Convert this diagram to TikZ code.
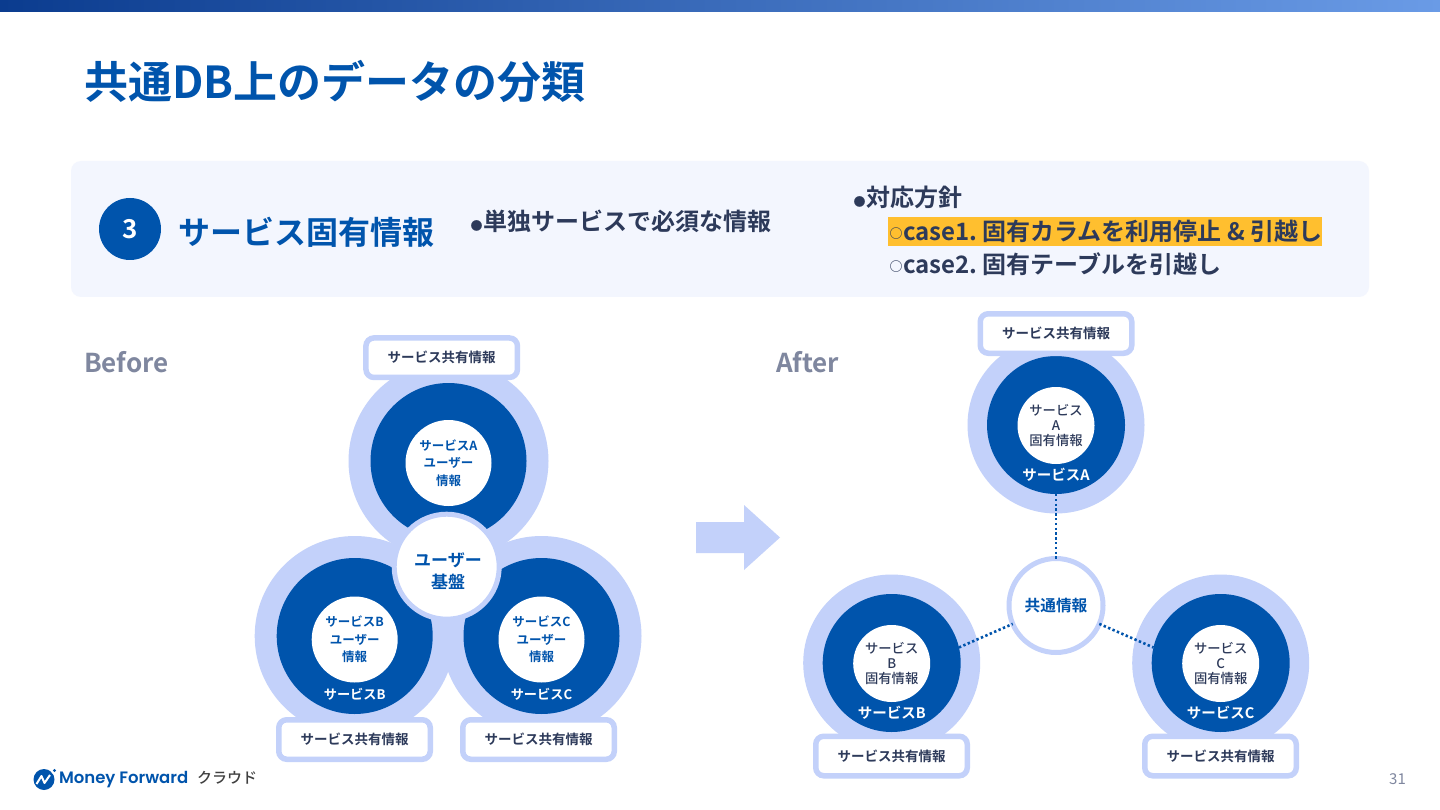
\documentclass[tikz,border=0pt]{standalone}
\usepackage{fontspec}
\setmainfont{Noto Sans CJK JP}[BoldFont={Noto Sans CJK JP Bold}]
\newfontfamily\jpm{Noto Sans CJK JP Medium}
\newfontfamily\logofont{Poppins SemiBold}
\usetikzlibrary{calc}
\definecolor{mfblue}{HTML}{0054AC}
\definecolor{mflight}{HTML}{C3D1FA}
\definecolor{mfpanel}{HTML}{F3F6FE}
\definecolor{mfink}{HTML}{2D3A5A}
\definecolor{mfgrey}{HTML}{7F879F}
\definecolor{mforange}{HTML}{FFBF2F}
\definecolor{mfbarl}{HTML}{0B3C8F}
\definecolor{mfbarr}{HTML}{6A9BE6}
\newcommand{\fsz}[2]{\fontsize{#1}{#2}\selectfont}
\newcommand{\solidbul}{\makebox[13pt][c]{\fsz{12}{12}●}}
\newcommand{\openbul}{\makebox[14pt][c]{\raisebox{1.5pt}{\fsz{13}{13}○}}}
\newcommand{\sharetxt}{\raisebox{-1pt}{サービス共有情報}}
\tikzset{
  x=1pt,y=-1pt,
  lab/.style={inner sep=0,outer sep=0,align=center},
  disc/.style={circle,inner sep=0,outer sep=0,minimum size=#1},
  bigl/.style={disc=200,fill=mflight},
  bigd/.style={disc=156,fill=mfblue},
  bigw/.style={disc=86,fill=white,text=mfblue,font=\bfseries\fsz{12.5}{17.5},lab},
  smal/.style={disc=177,fill=mflight},
  smad/.style={disc=138,fill=mfblue},
  smaw/.style={disc=77,fill=white,text=mfink,font=\jpm\fsz{13.3}{15},lab},
  sharebox/.style={rectangle,rounded corners=8,draw=mflight,line width=5.5,fill=white,inner sep=0,outer sep=0,minimum width=151.5,minimum height=39.5,text=mfink,font=\bfseries\fsz{13.5}{16}},
  whitelab/.style={lab,text=white,font=\bfseries\fsz{13.2}{16}},
  link/.style={draw=mfblue,line width=2.6,dash pattern=on 2.4 off 2.4},
  head/.style={lab,anchor=west,text=mfink,font=\bfseries\fsz{24}{30}},
}
\begin{document}
\begin{tikzpicture}
\useasboundingbox (0,0) rectangle (1440,810);
\fill[white] (0,0) rectangle (1440,810);
\shade[left color=mfbarl,right color=mfbarr] (0,0) rectangle (1440,12);
% title
\node[lab,anchor=west,text=mfblue,font=\bfseries\fsz{44}{50}] (title) at (84,81) {共通DB上のデータの分類};
% panel
\fill[mfpanel,rounded corners=10] (71,161) rectangle (1369,297);
\node[disc=62,fill=mfblue,text=white,font=\bfseries\fsz{26}{30}] (badge) at (130,229) {3};
\node[lab,anchor=west,text=mfblue,font=\bfseries\fsz{32}{36}] (kind) at (178,232) {サービス固有情報};
\node[head] (single) at (470,221) {\solidbul 単独サービスで必須な情報};
\node[head] (policy) at (853,197) {\solidbul 対応方針};
\node[rectangle,fill=mforange,inner sep=0,outer sep=0,minimum width=434,minimum height=29,anchor=west] (hl) at (888,231.5) {};
\node[head] (case1) at (889,231) {\openbul case1.\hspace{-2pt} 固有カラムを利用停止 \& 引越し};
\node[head] (case2) at (889,264) {\openbul case2.\hspace{-2pt} 固有テーブルを引越し};
% before
\node[lab,anchor=west,text=mfgrey,font=\bfseries\fsz{26}{30}] (before) at (84,362) {Before};
\node[bigl] (bAo) at (448.5,461) {};
\node[bigl] (bBo) at (354.7,636) {};
\node[bigl] (bCo) at (541.5,636) {};
\node[bigd] (bAd) at (448.5,461) {};
\node[bigd] (bBd) at (354.7,636) {};
\node[bigd] (bCd) at (541.5,636) {};
\node[bigw] (bAw) at (448.5,463) {サービスA\\ユーザー\\情報};
\node[bigw] (bBw) at (354.7,639.5) {サービスB\\ユーザー\\情報};
\node[bigw] (bCw) at (541.5,639.5) {サービスC\\ユーザー\\情報};
\node[whitelab] (bBl) at (354.7,694) {サービスB};
\node[whitelab] (bCl) at (541.5,694) {サービスC};
\node[disc=105,draw=mflight,line width=5,fill=white] (base) at (446.7,566.7) {};
\node[lab,text=mfblue,font=\bfseries\fsz{17}{22}] (basetext) at (448,571.5) {ユーザー\\基盤};
\node[sharebox] (bAs) at (441.7,357.7) {\sharetxt};
\node[sharebox] (bBs) at (354.5,739.5) {\sharetxt};
\node[sharebox] (bCs) at (538.5,739.5) {\sharetxt};
% arrow
\fill[mflight] (696,522) -- (744,522) -- (744,505) -- (780,537.5) -- (744,570) -- (744,553) -- (696,553) -- cycle;
% after
\node[lab,anchor=west,text=mfgrey,font=\bfseries\fsz{26}{30}] (after) at (776,362) {After};
\node[smal] (aAo) at (1056,425) {};
\node[smal] (aBo) at (891.7,663) {};
\node[smal] (aCo) at (1220.7,663) {};
\node[smad] (aAd) at (1056,425) {};
\node[smad] (aBd) at (891.7,663) {};
\node[smad] (aCd) at (1220.7,663) {};
\node[smaw] (aAw) at (1056,425.5) {サービス\\A\\固有情報};
\node[smaw] (aBw) at (891.7,663.5) {サービス\\B\\固有情報};
\node[smaw] (aCw) at (1220.7,663.5) {サービス\\C\\固有情報};
\node[whitelab,font=\bfseries\fsz{14.5}{16}] (aAl) at (1056,475) {サービスA};
\node[whitelab,font=\bfseries\fsz{14.5}{16}] (aBl) at (891.7,713) {サービスB};
\node[whitelab,font=\bfseries\fsz{14.5}{16}] (aCl) at (1220.7,713) {サービスC};
\node[disc=94,draw=mflight,line width=5,fill=white,text=mfblue,font=\bfseries\fsz{15.7}{20}] (shared) at (1056,605.5) {共通情報};
\path[link] (aAd.-90) -- (shared.90);
\path[link] (aBd.13) -- (shared.203);
\path[link] (shared.-23) -- (aCd.167);
\node[sharebox] (aAs) at (1056,333.5) {\sharetxt};
\node[sharebox] (aBs) at (891.5,756) {\sharetxt};
\node[sharebox] (aCs) at (1220.5,756) {\sharetxt};
% logo
\node[disc=21,fill=mfblue] (logo) at (44,779.5) {};
\draw[white,line width=2,line join=round] (36.5,784) -- (41.5,776) -- (44.5,783) -- (50,775);
\fill[white] (54,771) circle (3);
\fill[mfblue] (54.5,770.5) circle (1.7);
\node[lab,anchor=west,text=mfblue,font=\logofont\fsz{16.5}{20}] (brand) at (59,780) {Money Forward};
\node[lab,anchor=west,text=black!75,font=\jpm\fsz{15}{18}] (cloud) at (197,778) {クラウド};
\node[lab,text=mfgrey,font=\fsz{15}{18}] (page) at (1397.5,779) {31};
\end{tikzpicture}
\end{document}
